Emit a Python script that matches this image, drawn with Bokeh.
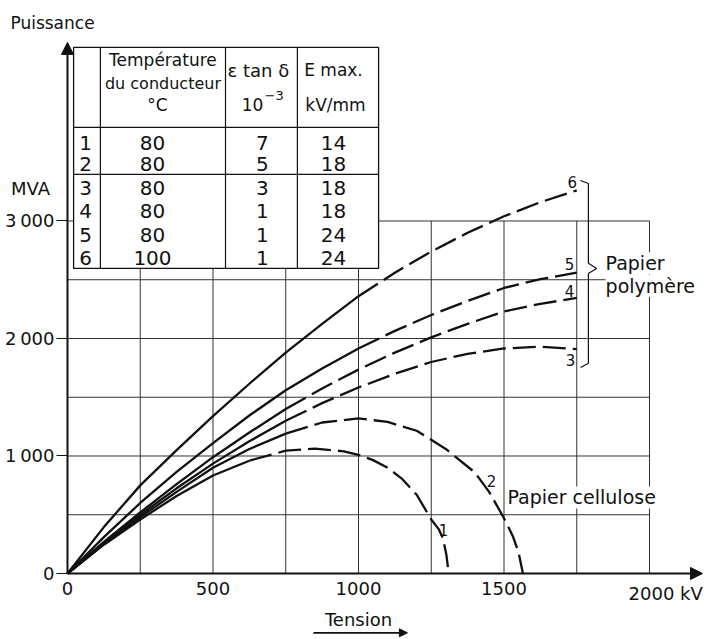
from bokeh.plotting import figure
from bokeh.models import (ColumnDataSource, LinearAxis, FixedTicker, Label, Arrow,
                          NormalHead, Range1d)
from bokeh.core.properties import value
from bokeh.embed import file_html
from bokeh.resources import INLINE

FONT = "DejaVu Sans"
INK = "#111111"

# ---------------- data ----------------
# Tension (kV) / Puissance (MVA)
c1_x = [0, 125, 250, 375, 500, 625, 750, 850, 950, 1000, 1050, 1100, 1150, 1200, 1250, 1275, 1290, 1302, 1310]
c1_y = [0, 245, 460, 660, 834, 960, 1045, 1062, 1040, 1010, 965, 900, 805, 670, 460, 380, 300, 160, 0]
c2_x = [0, 125, 250, 375, 500, 625, 750, 875, 1000, 1100, 1200, 1300, 1400, 1450, 1500, 1530, 1550, 1565]
c2_y = [0, 250, 480, 695, 900, 1060, 1190, 1285, 1320, 1290, 1215, 1060, 860, 690, 470, 320, 180, 0]
c3_x = [0, 125, 250, 375, 500, 625, 750, 875, 1000, 1125, 1250, 1375, 1500, 1625, 1750]
c3_y = [0, 260, 500, 725, 935, 1125, 1300, 1450, 1583, 1700, 1800, 1870, 1915, 1930, 1910]
c4_x = [0, 125, 250, 375, 500, 625, 750, 875, 1000, 1125, 1250, 1375, 1500, 1625, 1750]
c4_y = [0, 270, 520, 760, 990, 1200, 1400, 1575, 1735, 1880, 2010, 2125, 2230, 2295, 2345]
c5_x = [0, 125, 250, 375, 500, 625, 750, 875, 1000, 1125, 1250, 1375, 1500, 1625, 1750]
c5_y = [0, 310, 600, 865, 1110, 1345, 1560, 1745, 1915, 2065, 2200, 2320, 2430, 2505, 2560]
c6_x = [0, 125, 250, 375, 500, 625, 750, 875, 1000, 1125, 1250, 1375, 1500, 1625, 1750]
c6_y = [0, 395, 750, 1050, 1340, 1615, 1880, 2125, 2360, 2560, 2740, 2900, 3040, 3160, 3260]
solid_until = [625, 750, 750, 750, 1000, 1000]   # beyond: dashed

# table
row_ids = ["1", "2", "3", "4", "5", "6"]
temps = ["80", "80", "80", "80", "80", "100"]
eps_tan = ["7", "5", "3", "1", "1", "1"]
e_max = ["14", "18", "18", "18", "24", "24"]

# axes / grid
x_ticks = [0, 500, 1000, 1500, 2000]
y_ticks = [0, 1000, 2000, 3000]
y_tick_labels = {0: "0", 1000: "1\u2009000", 2000: "2\u2009000", 3000: "3\u2009000"}
x_grid = [250, 500, 750, 1000, 1250, 1500, 1750, 2000]
y_grid = [500, 1000, 1500, 2000, 2500, 3000]

# ---------------- figure ----------------
p = figure(width=716, height=637, output_backend="svg", toolbar_location=None,
           x_range=Range1d(-230.2, 2230.2), y_range=Range1d(-544.7, 4876.6),
           x_axis_type=None, y_axis_type=None, min_border=0)
p.outline_line_color = None
p.xgrid.visible = False
p.ygrid.visible = False
p.background_fill_color = "white"

# grid
p.segment(x0=x_grid, y0=0, x1=x_grid, y1=max(y_grid), line_color="#333333", line_width=1)
p.segment(x0=0, y0=y_grid, x1=max(x_grid), y1=y_grid, line_color="#333333", line_width=1)

# axes
xaxis = LinearAxis(ticker=FixedTicker(ticks=x_ticks), fixed_location=0)
xaxis.major_label_overrides = {2000: ""}
xaxis.axis_line_color = None
xaxis.major_tick_out = 0
xaxis.major_tick_in = 0
xaxis.minor_tick_line_color = None
xaxis.major_label_standoff = 9
xaxis.major_label_text_font = FONT
xaxis.major_label_text_font_size = "18px"
xaxis.major_label_text_color = INK
p.add_layout(xaxis, "below")

yaxis = LinearAxis(ticker=FixedTicker(ticks=y_ticks), fixed_location=0)
yaxis.major_label_overrides = y_tick_labels
yaxis.axis_line_color = None
yaxis.major_tick_out = 11
yaxis.major_tick_in = 0
yaxis.major_tick_line_color = INK
yaxis.major_tick_line_width = 1.2
yaxis.minor_tick_line_color = None
yaxis.major_label_standoff = 2
yaxis.major_label_text_font = FONT
yaxis.major_label_text_font_size = "18px"
yaxis.major_label_text_color = INK
p.add_layout(yaxis, "left")

p.add_layout(Arrow(end=NormalHead(size=12, fill_color=INK, line_color=INK),
                   x_start=0, y_start=0, x_end=2182, y_end=0, line_width=2, line_color=INK))
p.add_layout(Arrow(end=NormalHead(size=12, fill_color=INK, line_color=INK),
                   x_start=0, y_start=0, x_end=0, y_end=4520, line_width=2, line_color=INK))

# curves
curves = [(c1_x, c1_y), (c2_x, c2_y), (c3_x, c3_y), (c4_x, c4_y), (c5_x, c5_y), (c6_x, c6_y)]
for (xs, ys), brk in zip(curves, solid_until):
    n = len([x for x in xs if x <= brk])
    p.line(xs[:n], ys[:n], line_color=INK, line_width=2.3, line_join="round")
    p.line(xs[n - 1:], ys[n - 1:], line_color=INK, line_width=2.3, line_dash="23 7")

# curve numbers
cl_src = ColumnDataSource(dict(x=[1292, 1457, 1729, 1725, 1725, 1735],
                               y=[366, 791, 1813, 2400, 2630, 3328],
                               t=row_ids))
p.text(x="x", y="y", text="t", source=cl_src, text_align="center", text_baseline="middle",
       text_font=value(FONT), text_font_size="15px", text_color=INK)

# brace
p.line([1763, 1790, 1790, 1818, 1790, 1790, 1763],
       [3345, 3319, 2640, 2596, 2553, 1790, 1753], line_color=INK, line_width=1.2)

def lab(x, y, text, size="18px", align="left", bg=None):
    p.add_layout(Label(x=x, y=y, text=text, text_font=FONT, text_font_size=size,
                       text_align=align, text_baseline="middle", text_color=INK,
                       background_fill_color=bg))

lab(1849, 2640, "Papier", size="19px", bg="white")
lab(1849, 2448, "polymère", size="19px", bg="white")
lab(1512, 647, "Papier   cellulose", size="19px", bg="white")

# table
tl, tr, tt, tb = 21, 1069, 4477, 2596
col_div = [113, 543, 790]
p.quad(left=tl, right=tr, top=tt, bottom=tb, fill_color="white", line_color=INK, line_width=1.3)
p.segment(x0=col_div, y0=tt, x1=col_div, y1=tb, line_color=INK, line_width=1.2)
p.segment(x0=tl, y0=[3796, 3396], x1=tr, y1=[3796, 3396], line_color=INK, line_width=1.2)

row_y = [3668, 3489, 3285, 3089, 2885, 2689]
tsrc = ColumnDataSource(dict(y=row_y, ids=row_ids, temp=temps, eps=eps_tan, emax=e_max))
for xc, col in [(62, "ids"), (292, "temp"), (670, "eps"), (914, "emax")]:
    p.text(x=xc, y="y", text=col, source=tsrc, text_align="center", text_baseline="middle",
           text_font=value(FONT), text_font_size="20px", text_color=INK)

lab(328, 4366, "Température", size="17px", align="center")
lab(328, 4170, "du conducteur", size="16px", align="center")
lab(309, 3983, "°C", size="17px", align="center")
lab(656, 4281, "ε tan δ", size="18px", align="center")
lab(673, 3991, "10", size="17px", align="right")
lab(677, 4068, "−3", size="13px", align="left")
lab(914, 4281, "E max.", size="17px", align="center")
lab(921, 3991, "kV/mm", size="17px", align="center")

# axis titles
lab(-196, 4689, "Puissance", size="17px")
lab(-127, 3277, "MVA", size="18px", align="center")
lab(1928, -170, "2000 kV", size="18px")
lab(1000, -391, "Tension", size="18px", align="center")
p.add_layout(Arrow(end=NormalHead(size=8, fill_color=INK, line_color=INK),
                   x_start=845, y_start=-505, x_end=1168, y_end=-505, line_width=1.8, line_color=INK))

open("out.html", "w").write(file_html(p, INLINE))
